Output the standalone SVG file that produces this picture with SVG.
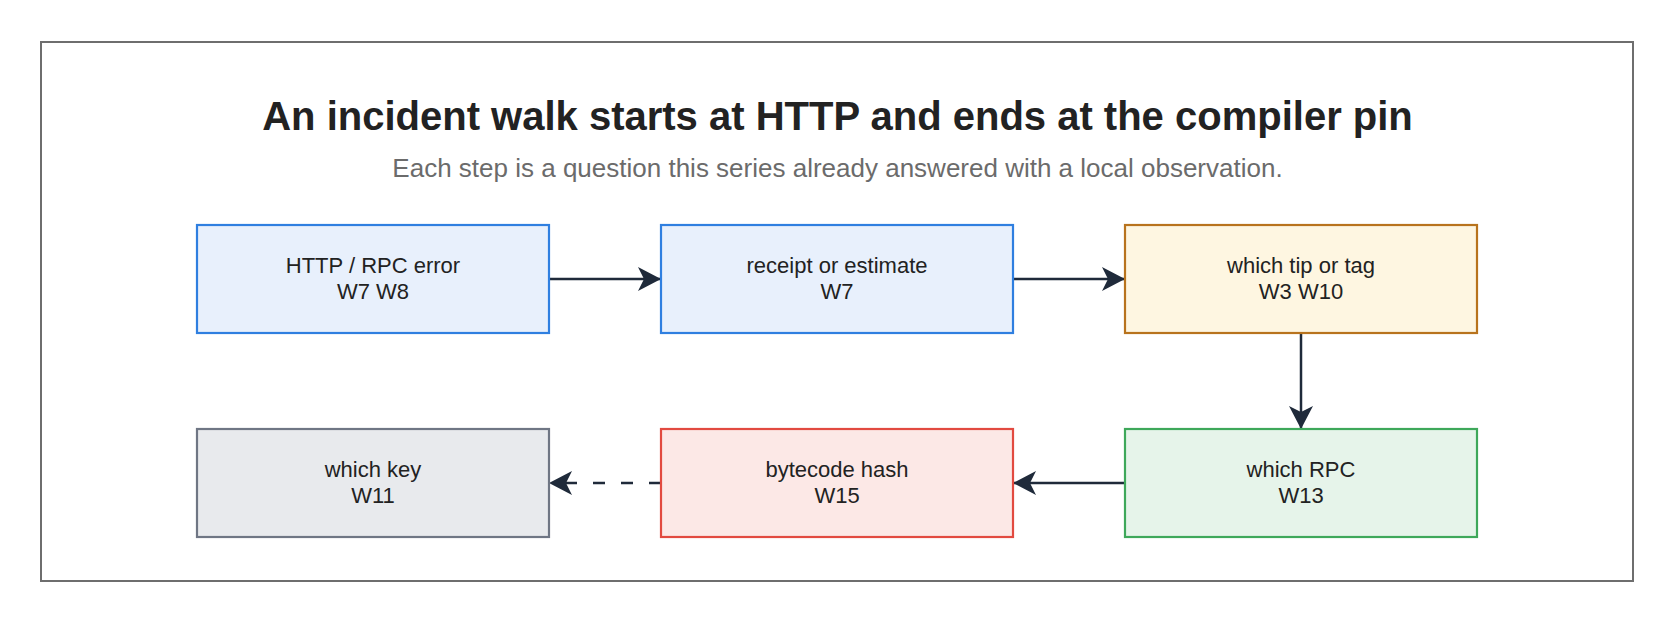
<svg xmlns="http://www.w3.org/2000/svg" width="1675" height="623" viewBox="0 0 1675 623">
<defs>
<style>
.frame{fill:#ffffff;stroke:#6e6e6e;stroke-width:2}
.title{font-family:"Liberation Sans",Arial,sans-serif;font-weight:bold;font-size:40px;fill:#222222;text-anchor:middle}
.sub{font-family:"Liberation Sans",Arial,sans-serif;font-size:26px;fill:#6b6b6b;text-anchor:middle}
.lbl{font-family:"Liberation Sans",Arial,sans-serif;font-size:22px;fill:#222222;text-anchor:middle}
.box{stroke-width:2.2}
.blue{fill:#e8f0fc;stroke:#2f7fe0}
.orange{fill:#fef6e1;stroke:#b8731d}
.green{fill:#e6f4ea;stroke:#3ea85a}
.red{fill:#fce8e6;stroke:#e24a40}
.gray{fill:#e8eaed;stroke:#6f7684}
.edge{fill:none;stroke:#1f2a3a;stroke-width:2.5}
.dash{stroke-dasharray:12 16}
</style>
<marker id="arr" markerUnits="userSpaceOnUse" markerWidth="26" markerHeight="26" viewBox="0 0 26 26" refX="24" refY="13" orient="auto">
<path d="M1,1 L24,13 L1,25 L7,13 z" fill="#1f2a3a"/>
</marker>
</defs>
<rect class="frame" x="41" y="42" width="1592" height="539"/>
<text class="title" x="837.5" y="130">An incident walk starts at HTTP and ends at the compiler pin</text>
<text class="sub" x="837.5" y="177">Each step is a question this series already answered with a local observation.</text>
<g id="connectors">
<path class="edge" d="M549,279 L661,279" marker-end="url(#arr)"/>
<path class="edge" d="M1013,279 L1125,279" marker-end="url(#arr)"/>
<path class="edge" d="M1301,333 L1301,429" marker-end="url(#arr)"/>
<path class="edge" d="M1125,483 L1013,483" marker-end="url(#arr)"/>
<path class="edge dash" d="M661,483 L549,483" marker-end="url(#arr)"/>
</g>
<g id="n1"><rect class="box blue" x="197" y="225" width="352" height="108"/><text class="lbl" x="373" y="273">HTTP / RPC error</text><text class="lbl" x="373" y="299">W7 W8</text></g>
<g id="n2"><rect class="box blue" x="661" y="225" width="352" height="108"/><text class="lbl" x="837" y="273">receipt or estimate</text><text class="lbl" x="837" y="299">W7</text></g>
<g id="n3"><rect class="box orange" x="1125" y="225" width="352" height="108"/><text class="lbl" x="1301" y="273">which tip or tag</text><text class="lbl" x="1301" y="299">W3 W10</text></g>
<g id="n4"><rect class="box green" x="1125" y="429" width="352" height="108"/><text class="lbl" x="1301" y="477">which RPC</text><text class="lbl" x="1301" y="503">W13</text></g>
<g id="n5"><rect class="box red" x="661" y="429" width="352" height="108"/><text class="lbl" x="837" y="477">bytecode hash</text><text class="lbl" x="837" y="503">W15</text></g>
<g id="n6"><rect class="box gray" x="197" y="429" width="352" height="108"/><text class="lbl" x="373" y="477">which key</text><text class="lbl" x="373" y="503">W11</text></g>
</svg>
